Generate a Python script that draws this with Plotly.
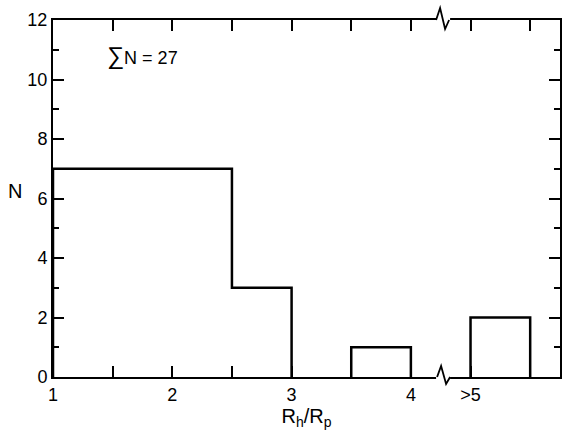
import plotly.graph_objects as go

# Histogram data: 0.5-wide bins; ">5" bin plotted at 4.5-5 (after the axis break)
bin_edges = [1.0, 1.5, 2.0, 2.5, 3.0, 3.5, 4.0, 4.5, 5.0]
counts = [7, 7, 7, 3, 0, 1, 0, 2]  # 4.0-4.5 is the axis-break gap
tick_vals = [1, 2, 3, 4, 4.5]
tick_text = ["1", "2", "3", "4", ">5"]
minor_x_ticks = [1.5, 2.5, 3.5, 5]
y_tick_vals = [0, 2, 4, 6, 8, 10, 12]
break_x = 4.27
total_n = sum(counts)

# build step outline, skipping empty bins so nothing is drawn over the baseline
xs, ys = [], []
prev = 0
for i, c in enumerate(counts):
    left, right = bin_edges[i], bin_edges[i + 1]
    if c == 0:
        if prev != 0:
            xs += [left, None]
            ys += [0, None]
        prev = 0
        continue
    xs += [left, left, right]
    ys += [prev, c, c]
    prev = c
if prev != 0:
    xs += [bin_edges[-1]]
    ys += [0]

fig = go.Figure()
fig.add_trace(go.Scatter(
    x=xs, y=ys, mode="lines",
    line=dict(color="black", width=2.5), hoverinfo="skip", showlegend=False,
))

family = "Liberation Sans, Arial, sans-serif"
font = dict(family=family, size=18, color="black")

fig.update_layout(
    width=570, height=444,
    margin=dict(l=53, r=10, t=20, b=67),
    paper_bgcolor="white", plot_bgcolor="white",
    font=font,
    showlegend=False,
    xaxis=dict(
        range=[1, 5.25], tickmode="array", tickvals=tick_vals, ticktext=tick_text, automargin=False,
        ticklabeloverflow="allow",
        ticks="inside", ticklen=11, tickwidth=1.5, tickcolor="black",
        minor=dict(tickmode="array", tickvals=minor_x_ticks, ticks="inside", ticklen=11,
                   tickwidth=1.5, tickcolor="black", showgrid=False),
        showline=True, linecolor="black", linewidth=2, mirror="allticks",
        showgrid=False, zeroline=False, tickfont=font,
        title=dict(text="R<sub>h</sub>/R<sub>p</sub>", font=dict(family=family, size=20, color="black"), standoff=2),
    ),
    yaxis=dict(
        range=[0, 12], tickvals=y_tick_vals, automargin=False,
        ticklabeloverflow="allow",
        ticks="inside", ticklen=11, tickwidth=1.5, tickcolor="black",
        minor=dict(dtick=1, ticks="inside", ticklen=6, tickwidth=1.5, tickcolor="black", showgrid=False),
        showline=True, linecolor="black", linewidth=2, mirror="allticks",
        showgrid=False, zeroline=False, tickfont=font,
    ),
)

fig.add_annotation(text="N", xref="paper", yref="paper", x=-0.075, y=0.52,
                   showarrow=False, font=dict(family=family, size=20, color="black"),
                   xanchor="center", yanchor="middle")
fig.add_annotation(text="<span style='font-size:24px'>∑</span>N = " + str(total_n),
                   xref="x", yref="y", x=1.44, y=10.8,
                   showarrow=False, font=font, xanchor="left", yanchor="middle")

# axis break symbols (bottom and top)
for yanc, path in [(0, "M-6,0 L-2,11 L3,-7 L7,0"), (1, "M-7,0 L-3,12 L2,-9 L6,0")]:
    fig.add_shape(type="line", xref="x", yref="paper", xsizemode="pixel", ysizemode="pixel",
                  xanchor=break_x, yanchor=yanc, x0=-7, x1=7, y0=0, y1=0,
                  line=dict(color="white", width=5), layer="above")
    fig.add_shape(type="path", xref="x", yref="paper", xsizemode="pixel", ysizemode="pixel",
                  xanchor=break_x, yanchor=yanc, path=path,
                  line=dict(color="black", width=1.8), layer="above")

fig.write_html("out.html", config={"displayModeBar": False},
               post_script="document.body.style.margin='0';")
